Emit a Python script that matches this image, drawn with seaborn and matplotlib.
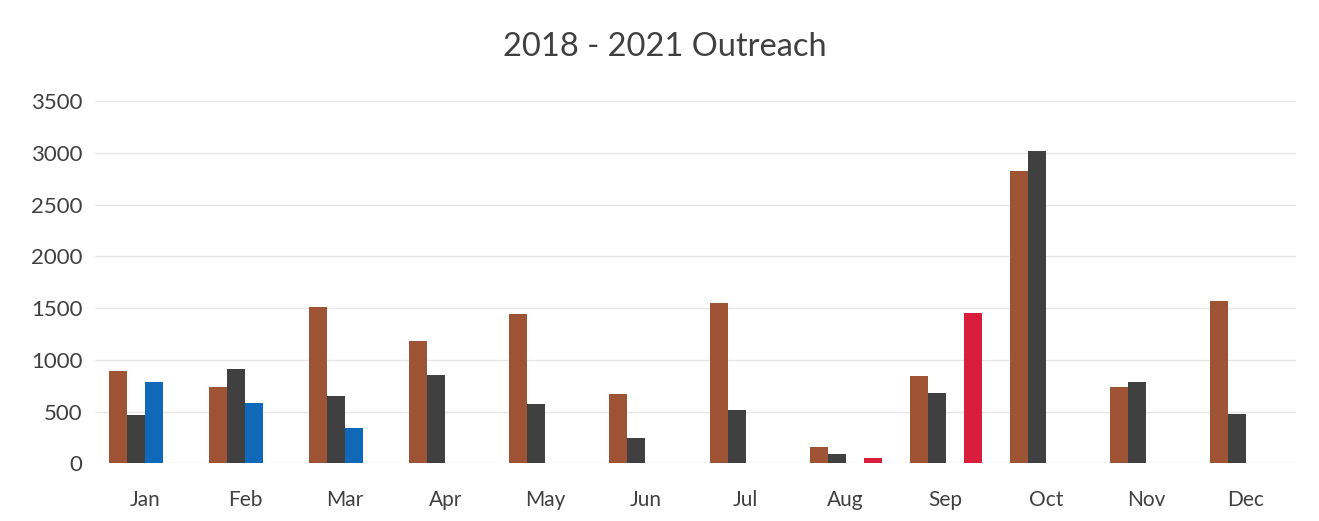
import numpy as np
import pandas as pd
import matplotlib
matplotlib.use("Agg")
import matplotlib.pyplot as plt
import seaborn as sns

months = ["Jan", "Feb", "Mar", "Apr", "May", "Jun", "Jul", "Aug", "Sep", "Oct", "Nov", "Dec"]
y2018 = [890, 740, 1510, 1180, 1440, 670, 1550, 155, 845, 2820, 740, 1570]
y2019 = [470, 910, 650, 850, 570, 245, 515, 90, 680, 3020, 785, 475]
y2020 = [790, 580, 345, np.nan, np.nan, np.nan, np.nan, np.nan, np.nan, np.nan, np.nan, np.nan]
y2021 = [np.nan, np.nan, np.nan, np.nan, np.nan, np.nan, np.nan, 55, 1455, np.nan, np.nan, np.nan]
years = ["2018", "2019", "2020", "2021"]
yticks = [0, 500, 1000, 1500, 2000, 2500, 3000, 3500]

colors = ["#9E5434", "#404040", "#1068B8", "#D81E3C"]

rows = []
for yr, vals in zip(years, [y2018, y2019, y2020, y2021]):
    for m, v in zip(months, vals):
        rows.append({"Month": m, "Year": yr, "Value": v})
df = pd.DataFrame(rows)

sns.set_theme(style="white")
plt.rcParams['font.family'] = ['Lato', 'DejaVu Sans']

fig = plt.figure(figsize=(13.19, 5.21), dpi=100)
ax = fig.add_axes([0.072, 0.1104, 0.9106, 0.6956])

sns.barplot(data=df, x="Month", y="Value", hue="Year", order=months,
            hue_order=years, palette=colors, saturation=1, width=0.72,
            errorbar=None, linewidth=0, ax=ax, legend=False)

ax.set_xlim(-0.5, 11.5)
ax.set_ylim(0, 3500)
ax.set_yticks(yticks)
ax.set_yticklabels([str(t) for t in yticks])
ax.yaxis.grid(True, color="#e6e6e6", linewidth=1.0)
ax.set_axisbelow(True)
for s in ax.spines.values():
    s.set_visible(False)
ax.tick_params(axis="both", length=0, labelcolor="#404040")
ax.tick_params(axis="x", pad=19, labelsize=15)
ax.tick_params(axis="y", pad=9, labelsize=16)
ax.set_xlabel("")
ax.set_ylabel("")

fig.text(0.504, 0.91, "2018 - 2021 Outreach", ha="center", va="center",
         fontsize=23.5, color="#404040")

fig.savefig("out.png", dpi=100, facecolor="white")
